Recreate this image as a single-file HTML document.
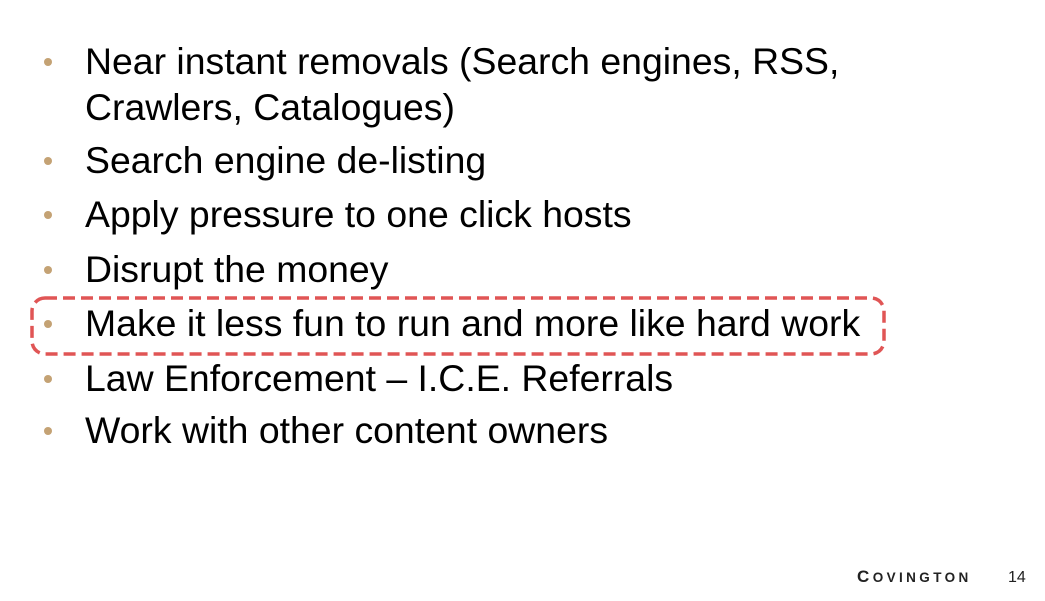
<!DOCTYPE html>
<html><head><meta charset="utf-8"><style>
html,body{margin:0;padding:0;background:#fff;}
svg{display:block}
text{font-family:"Liberation Sans",sans-serif;}
</style></head><body>
<svg width="1045" height="601" viewBox="0 0 1045 601">
<g fill="#c4a274">
<circle cx="48" cy="62" r="4"/>
<circle cx="48" cy="161" r="4"/>
<circle cx="48" cy="215" r="4"/>
<circle cx="48" cy="270" r="4"/>
<circle cx="48" cy="324" r="4"/>
<circle cx="48" cy="379" r="4"/>
<circle cx="48" cy="431" r="4"/>
</g>
<g font-size="37.4" fill="#000">
<text x="85" y="74">Near instant removals (Search engines, RSS,</text>
<text x="85" y="120">Crawlers, Catalogues)</text>
<text x="85" y="173">Search engine de-listing</text>
<text x="85" y="227">Apply pressure to one click hosts</text>
<text x="85" y="282">Disrupt the money</text>
<text x="85" y="336">Make it less fun to run and more like hard work</text>
<text x="85" y="391">Law Enforcement – I.C.E. Referrals</text>
<text x="85" y="443">Work with other content owners</text>
</g>
<rect x="32" y="298" width="852" height="56" rx="13" ry="13" fill="none" stroke="#e05555" stroke-width="3.5" stroke-dasharray="12 6"/>
<text x="857" y="582" font-size="17" fill="#222" letter-spacing="3.4" font-weight="bold">C<tspan font-size="13.5">OVINGTON</tspan></text>
<text x="1008" y="582" font-size="16" fill="#222">14</text>
</svg>
</body></html>
